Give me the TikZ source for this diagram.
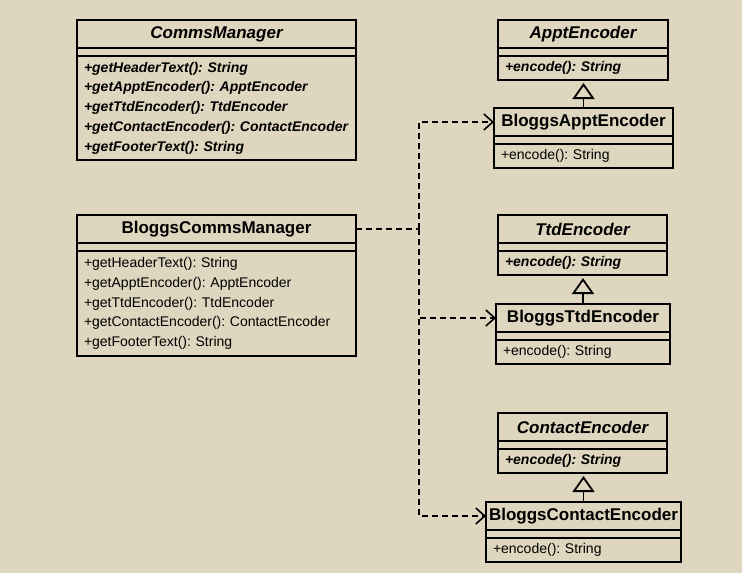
\documentclass[tikz,border=0pt]{standalone}
\usepackage{fontspec}
\setmainfont{Liberation Sans}
\usepackage{xcolor}
\usepackage{tikz}
\usetikzlibrary{arrows.meta,positioning,calc}
\definecolor{paper}{RGB}{222,214,190}
\frenchspacing
\hyphenpenalty=10000

\begin{document}
\begin{tikzpicture}[x=1pt, y=-1pt,
  box/.style={draw, line width=1.8pt, outer sep=0pt, inner sep=0pt},
  cname/.style={box, anchor=north west, minimum height=28pt,
    font=\fontsize{17}{20}\selectfont\bfseries},
  aname/.style={cname, font=\fontsize{17}{20}\selectfont\bfseries\itshape},
  cattr/.style={box, minimum height=8pt},
  cops/.style={box, inner xsep=7pt, align=left,
    font=\fontsize{14}{19.75}\selectfont},
  aops/.style={cops, font=\fontsize{14}{19.75}\selectfont\bfseries\itshape},
  gen/.style={line width=1.8pt, -{Triangle[open, length=16pt, width=22pt]}, shorten >=3pt},
  dep/.style={line width=1.6pt, dash pattern=on 6pt off 4pt, -{Straight Barb[length=9pt, width=16pt]}}]
  \fill[paper] (0,0) rectangle (742,573);
  \useasboundingbox (0,0) rectangle (742,573);
  % CommsManager (abstract)
  \node[aname, minimum width=279pt] (cm) at (77,20) {CommsManager};
  \node[cattr, minimum width=279pt, below=0pt of cm] (cma) {};
  \node[aops, text width=265pt, minimum height=104pt, below=0pt of cma] (cmo)
    {+getHeaderText(): String\\+getApptEncoder(): ApptEncoder\\+getTtdEncoder(): TtdEncoder\\
     +getContactEncoder(): ContactEncoder\\+getFooterText(): String};
  % BloggsCommsManager
  \node[cname, minimum width=279pt] (bcm) at (77,215) {BloggsCommsManager};
  \node[cattr, minimum width=279pt, below=0pt of bcm] (bcma) {};
  \node[cops, text width=265pt, minimum height=105pt, below=0pt of bcma] (bcmo)
    {+getHeaderText(): String\\+getApptEncoder(): ApptEncoder\\+getTtdEncoder(): TtdEncoder\\
     +getContactEncoder(): ContactEncoder\\+getFooterText(): String};
  % ApptEncoder
  \node[aname, minimum width=170pt] (ae) at (498,20) {ApptEncoder};
  \node[cattr, minimum width=170pt, below=0pt of ae] (aea) {};
  \node[aops, text width=156pt, minimum height=24pt, below=0pt of aea] (aeo) {+encode(): String};
  \node[cname, minimum width=179pt] (bae) at (494,108) {BloggsApptEncoder};
  \node[cattr, minimum width=179pt, below=0pt of bae] (baea) {};
  \node[cops, text width=165pt, minimum height=24pt, below=0pt of baea] (baeo) {+encode(): String};
  % TtdEncoder
  \node[aname, minimum width=169pt] (te) at (498,215) {TtdEncoder};
  \node[cattr, minimum width=169pt, below=0pt of te] (tea) {};
  \node[aops, text width=155pt, minimum height=24pt, below=0pt of tea] (teo) {+encode(): String};
  \node[cname, minimum width=174pt] (bte) at (496,304) {BloggsTtdEncoder};
  \node[cattr, minimum width=174pt, below=0pt of bte] (btea) {};
  \node[cops, text width=160pt, minimum height=24pt, below=0pt of btea] (bteo) {+encode(): String};
  % ContactEncoder
  \node[aname, minimum width=169pt] (ce) at (498,413) {ContactEncoder};
  \node[cattr, minimum width=169pt, below=0pt of ce] (cea) {};
  \node[aops, text width=155pt, minimum height=24pt, below=0pt of cea] (ceo) {+encode(): String};
  \node[cname, minimum width=195pt] (bce) at (486,502) {BloggsContactEncoder};
  \node[cattr, minimum width=195pt, below=0pt of bce] (bcea) {};
  \node[cops, text width=181pt, minimum height=24pt, below=0pt of bcea] (bceo) {+encode(): String};
  % Inheritance
  \draw[gen] (bae.north) -- (bae.north |- aeo.south);
  \draw[gen] (bte.north) -- (bte.north |- teo.south);
  \draw[gen] (bce.north) -- (bce.north |- ceo.south);
  % Dependencies
  \coordinate (jn) at ($(bcm.east)+(63,0)$);
  \draw[line width=1.6pt, dash pattern=on 6pt off 4pt] (bcm.east) -- (jn);
  \draw[dep] (jn) |- (bae.west);
  \draw[dep] (jn) |- (bte.west);
  \draw[dep] (jn) |- (bce.west);
\end{tikzpicture}
\end{document}
